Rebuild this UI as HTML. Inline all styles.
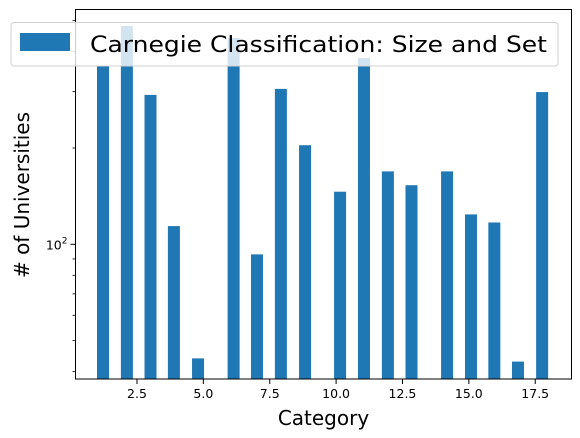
<!DOCTYPE html>
<html><head><meta charset="utf-8"><style>
body{margin:0;background:#fff}
svg{display:block;font-family:"DejaVu Sans","Liberation Sans",sans-serif}
</style></head><body>
<svg id="chart" width="580" height="438" viewBox="0 0 580 438" xmlns="http://www.w3.org/2000/svg">
<g id="bars"></g>
<g id="axes"></g>
</svg>
<script>
const categories = [1.22, 2.12, 3.01, 3.89, 4.80, 6.14, 7.02, 7.92, 8.83, 10.15, 11.05, 11.95, 12.84, 14.18, 15.08, 15.96, 16.85, 17.76];
const counts = [360, 481, 293, 114, 44, 441, 93, 306, 204, 146, 382, 169, 153, 169, 124, 117, 43, 299];
const xTicks = [2.5, 5.0, 7.5, 10.0, 12.5, 15.0, 17.5];
const xTickLabels = ["2.5", "5.0", "7.5", "10.0", "12.5", "15.0", "17.5"];
const yMinorTicks = [40, 50, 60, 70, 80, 90, 200, 300, 400, 500];

const NS = "http://www.w3.org/2000/svg";
const L = 75.5, R = 571.5, T = 9.5, B = 379;
const xs = v => 70.6 + v * 26.55;
const ys = v => 244.3 - 320 * Math.log10(v / 100);
const barW = 12;
function mk(tag, attrs, parent) {
  const e = document.createElementNS(NS, tag);
  for (const k in attrs) e.setAttribute(k, attrs[k]);
  parent.appendChild(e);
  return e;
}
const barsG = document.getElementById('bars');
const axesG = document.getElementById('axes');
const svg = document.getElementById('chart');

categories.forEach((c, i) => {
  const y = ys(counts[i]);
  const r = mk('rect', {x: xs(c) - barW / 2, y: y, width: barW, height: B - y, fill: '#1f77b4'}, barsG);
  
  
});

const frame = mk('rect', {x: L, y: T, width: R - L, height: B - T, fill: 'none', stroke: '#000', 'stroke-width': 1}, axesG);



xTicks.forEach((t, i) => {
  const x = xs(t);
  const tk = mk('line', {x1: x, x2: x, y1: B, y2: B + 5, stroke: '#000', 'stroke-width': 1}, axesG);
  
  
  const tl = mk('text', {x: x, y: B + 19, 'text-anchor': 'middle', 'font-size': 12.5, fill: '#000'}, axesG);
  tl.textContent = xTickLabels[i];
  
  
});

yMinorTicks.forEach(v => {
  const y = ys(v);
  const tk = mk('line', {x1: L - 3, x2: L, y1: y, y2: y, stroke: '#000', 'stroke-width': 0.8}, axesG);
  
  
});
const yMajor = mk('line', {x1: L - 5, x2: L, y1: ys(100), y2: ys(100), stroke: '#000', 'stroke-width': 1}, axesG);


const yl = mk('text', {x: L - 8, y: ys(100) + 5, 'text-anchor': 'end', 'font-size': 12.5, fill: '#000'}, axesG);
yl.innerHTML = '10<tspan dy="-6" font-size="9">2</tspan>';



const xt = mk('text', {x: (L + R) / 2, y: 425, 'text-anchor': 'middle', 'font-size': 20, fill: '#000'}, axesG);
xt.textContent = 'Category';


const yt = mk('text', {x: 0, y: 0, 'text-anchor': 'middle', 'font-size': 20, fill: '#000', transform: 'translate(29,195) rotate(-90)'}, axesG);
yt.textContent = '# of Universities';



const leg = mk('g', {}, svg);


mk('rect', {x: 11, y: 22.5, width: 547, height: 43.5, rx: 3, fill: 'rgba(255,255,255,0.8)', stroke: '#d0d0d0', 'stroke-width': 1}, leg);
const patch = mk('rect', {x: 20, y: 33, width: 50, height: 18, fill: '#1f77b4'}, leg);


const lt = mk('text', {x: 90, y: 52, 'font-size': 22, fill: '#000', textLength: 457, lengthAdjust: 'spacingAndGlyphs'}, leg);
lt.textContent = 'Carnegie Classification: Size and Set';


</script>
</body></html>
